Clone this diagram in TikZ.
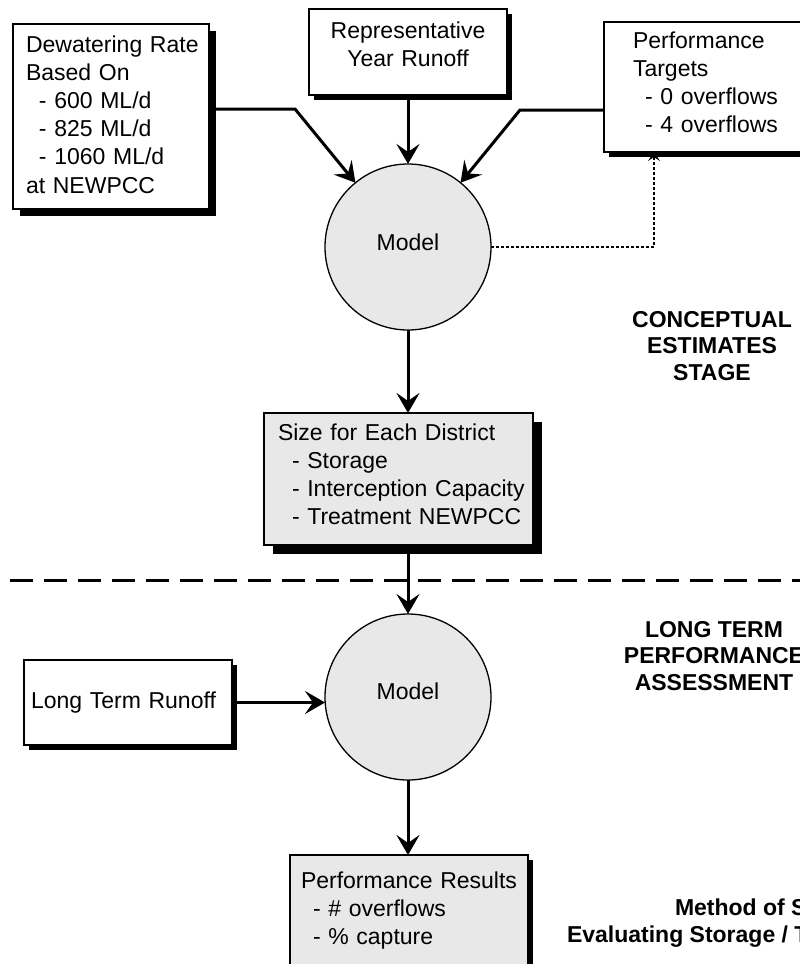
\documentclass[tikz,border=0pt]{standalone}
\usepackage{fontspec}
\setmainfont{Liberation Sans}
\usetikzlibrary{arrows.meta,shadows}
\begin{document}
\begin{tikzpicture}[x=1pt,y=-1pt,
  every node/.style={inner sep=0pt, outer sep=0pt},
  body/.style={font=\fontsize{23}{28.2}\selectfont, align=left, text width=#1, anchor=base west},
  head/.style={font=\fontsize{23}{26.5}\selectfont\bfseries, align=center, anchor=north},
  note/.style={font=\fontsize{23}{26.5}\selectfont\bfseries, anchor=base west},
  plainbox/.style={draw, line width=1.3pt, fill=white},
  greybox/.style={draw, line width=1.3pt, fill=black!9},
  shade/.style={drop shadow={shadow xshift=#1, shadow yshift=-#1, fill=black, opacity=1}},
  model/.style={circle, draw, line width=1.3pt, fill=black!9, minimum size=166pt,
    font=\fontsize{23}{28}\selectfont, text depth=10.5pt},
  flow/.style={line width=3pt, -{Stealth[length=20pt, width=23pt, inset=8pt]}},
  feedback/.style={line width=1.5pt, dash pattern=on 3pt off 2pt,
    -{Stealth[length=9pt, width=12pt, inset=4pt]}},
  sepline/.style={line width=3pt, dash pattern=on 23pt off 11pt, dash phase=24pt}]
\useasboundingbox (0,0) rectangle (800,964);
\clip (0,0) rectangle (800,964);

% ---- input boxes
\node[plainbox, shade=7pt, minimum width=196pt, minimum height=185pt] (dw) at (111,116.5) {};
\node[body=180pt] (dwt) at (26,52)
  {Dewatering Rate\\Based On\\\hspace*{13pt}- 600 ML/d\\\hspace*{13pt}- 825 ML/d\\\hspace*{13pt}- 1060 ML/d\\at NEWPCC};

\node[plainbox, shade=5pt, minimum width=198pt, minimum height=86pt] (rep) at (408,52) {};
\node[body=190pt, align=center, anchor=base] (rept) at (408,38) {Representative\\Year Runoff};

\node[plainbox, shade=5pt, minimum width=230pt, minimum height=130pt] (pt) at (719,87) {};
\node[body=190pt] (ptt) at (633,48)
  {Performance\\Targets\\\hspace*{12pt}- 0 overflows\\\hspace*{12pt}- 4 overflows};

% ---- first model run
\node[model] (m1) at (408,247) {Model};

\node[greybox, shade=9pt, minimum width=269pt, minimum height=132pt] (sz) at (398.5,479) {};
\node[body=260pt] (szt) at (278,440)
  {Size for Each District\\\hspace*{14pt}- Storage\\\hspace*{14pt}- Interception Capacity\\\hspace*{14pt}- Treatment NEWPCC};

% ---- second model run
\node[model, text depth=11pt] (m2) at (408,697) {Model};

\node[plainbox, shade=5pt, minimum width=208pt, minimum height=85pt] (ltr) at (128,702.5) {};
\node[body=200pt] (ltrt) at (31,708) {Long Term Runoff};

\node[greybox, shade=5pt, minimum width=238pt, minimum height=140pt] (res) at (409,925) {};
\node[body=220pt] (rest) at (301,888)
  {Performance Results\\\hspace*{12pt}- \# overflows\\\hspace*{12pt}- \% capture};

% ---- stage labels
\node[head] (stage1) at (712,311) {CONCEPTUAL\\ESTIMATES\\STAGE};
\node[head] (stage2) at (714,621) {LONG TERM\\PERFORMANCE\\ASSESSMENT};
\node[note] (cap1) at (675,915) {Method of S};
\node[note] (cap2) at (567,942) {Evaluating Storage / T};

% ---- stage separator
\coordinate (sepL) at (0,580);
\coordinate (sepR) at (800,580);
\draw[sepline] (sepL) -- (sepR);

% ---- connectors
\coordinate (k1) at (295,109);
\coordinate (k2) at (520,110);
\coordinate (k3) at (654,247);
\draw[flow] (dw.east |- k1) -- (k1) -- (m1);
\draw[flow] (pt.west |- k2) -- (k2) -- (m1);
\draw[flow] (rep.south) -- (m1.north);
\draw[feedback] (m1.east) -- (k3) -- (k3 |- pt.south);
\draw[flow] (m1.south) -- (m1.south |- sz.north);
\draw[flow] (sz.south -| m2.south) -- (m2.north);
\draw[flow] (ltr.east) -- (ltr.east -| m2.west);
\draw[flow] (m2.south) -- (m2.south |- res.north);
\end{tikzpicture}
\end{document}
